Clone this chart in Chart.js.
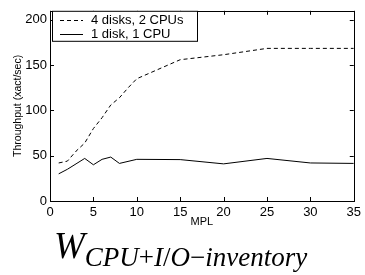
<!DOCTYPE html>
<html>
<head>
<meta charset="utf-8">
<script src="https://cdn.jsdelivr.net/npm/chart.js@4"></script>
<style>
  html, body { margin: 0; padding: 0; background: #fff; }
  #wrap { position: relative; width: 365px; height: 275px; }
  #title {
    position: absolute; left: 54px; top: 227px;
    font-family: "Liberation Serif", "DejaVu Serif", serif;
    font-style: italic; font-size: 37px; line-height: 37px; color: #000; white-space: nowrap;
  }
  #title sub { font-size: 27px; vertical-align: -8px; line-height: 27px; }
  #title .up { font-style: normal; }
</style>
</head>
<body>
<div id="wrap">
  <canvas id="chart" width="365" height="275"></canvas>
  <div id="title">W<sub>CPU<span class="up">+</span>I<span class="up">/</span>O<span class="up">&minus;</span>inventory</sub></div>
</div>
<script>
// data
let mplFast = [1, 2, 3, 4, 5, 6, 7, 8, 9, 10, 15, 20, 25, 30, 35];
let tputFast = [42, 44, 55, 64, 80, 92, 106, 114, 125, 135, 156, 161.5, 168.5, 168.5, 168.5];
let mplSlow = [1, 2, 3, 4, 5, 6, 7, 8, 10, 15, 20, 25, 30, 35];
let tputSlow = [30, 35, 41, 47, 40, 46, 48.5, 41.5, 46, 45.7, 41, 47, 42, 41.5];
let seriesNames = ["4 disks, 2 CPUs", "1 disk, 1 CPU"];
let xTicks = [0, 5, 10, 15, 20, 25, 30, 35];
let yTicks = [0, 50, 100, 150, 200];

function toPoints(xs, ys) {
    return xs.map((x, i) => ({x: x, y: ys[i]}));
}

// matlab style box: frame + inward ticks on all four sides
let boxPlugin = {
    id: "box",
    afterDraw(chart) {
        let ctx = chart.ctx;
        let a = chart.chartArea;
        let xs = chart.scales.x, ys = chart.scales.y;
        ctx.save();
        ctx.strokeStyle = "#000";
        ctx.lineWidth = 1;
        ctx.beginPath();
        xTicks.forEach(v => {
            let px = Math.round(xs.getPixelForValue(v)) + 0.5;
            ctx.moveTo(px, a.bottom); ctx.lineTo(px, a.bottom - 4);
            ctx.moveTo(px, a.top); ctx.lineTo(px, a.top + 4);
        });
        yTicks.forEach(v => {
            let py = Math.round(ys.getPixelForValue(v)) + 0.5;
            ctx.moveTo(a.left, py); ctx.lineTo(a.left + 4, py);
            ctx.moveTo(a.right, py); ctx.lineTo(a.right - 4, py);
        });
        ctx.stroke();
        ctx.strokeRect(Math.round(a.left) + 0.5, Math.round(a.top) + 0.5,
            Math.round(a.right - a.left), Math.round(a.bottom - a.top));

        // legend box in the top left corner
        let lx = a.left + 2, ly = a.top, lw = 145, lh = 30;
        ctx.fillStyle = "#fff";
        ctx.fillRect(lx, ly, lw, lh);
        ctx.strokeRect(lx + 0.5, ly + 0.5, lw, lh);
        ctx.font = "13px 'Liberation Sans', Arial, sans-serif";
        ctx.textBaseline = "middle";
        ctx.fillStyle = "#000";
        chart.data.datasets.forEach((ds, i) => {
            let cy = ly + 9.5 + i * 13.5;
            ctx.setLineDash(ds.borderDash || []);
            ctx.beginPath();
            ctx.moveTo(lx + 8, Math.round(cy) + 0.5);
            ctx.lineTo(lx + 31, Math.round(cy) + 0.5);
            ctx.stroke();
            ctx.setLineDash([]);
            ctx.fillText(ds.label, lx + 39, cy + 0.5);
        });
        ctx.restore();
    }
};

let chartContext = document.getElementById("chart").getContext("2d");
let chart = new Chart(chartContext, {
    type: "line",
    data: {
        datasets: [{
            label: seriesNames[0],
            data: toPoints(mplFast, tputFast),
            borderColor: "#000",
            borderWidth: 1,
            borderDash: [4, 3],
            pointRadius: 0,
            tension: 0,
            fill: false
        }, {
            label: seriesNames[1],
            data: toPoints(mplSlow, tputSlow),
            borderColor: "#000",
            borderWidth: 1,
            pointRadius: 0,
            tension: 0,
            fill: false
        }]
    },
    options: {
        responsive: false,
        animation: false,
        layout: {padding: {left: 0, right: 7, top: 1, bottom: 0}},
        plugins: {legend: {display: false}, tooltip: {enabled: false}},
        scales: {
            x: {
                type: "linear",
                min: 0, max: 35,
                afterBuildTicks: s => { s.ticks = xTicks.map(v => ({value: v})); },
                afterFit: s => { s.height = 74; },
                grid: {display: false, drawTicks: false},
                border: {display: false},
                ticks: {color: "#000", padding: 4, maxRotation: 0,
                    font: {family: "'Liberation Sans', Arial, sans-serif", size: 13}},
                title: {display: true, text: "MPL", color: "#000",
                    padding: {top: 0, bottom: 46},
                    font: {family: "'Liberation Sans', Arial, sans-serif", size: 11}}
            },
            y: {
                type: "linear",
                min: 0, max: 210,
                afterBuildTicks: s => { s.ticks = yTicks.map(v => ({value: v})); },
                afterFit: s => { s.width = 50; },
                grid: {display: false, drawTicks: false},
                border: {display: false},
                ticks: {color: "#000", padding: 3,
                    font: {family: "'Liberation Sans', Arial, sans-serif", size: 13}},
                title: {display: true, text: "Throughput (xact/sec)", color: "#000",
                    padding: {top: 12, bottom: 0},
                    font: {family: "'Liberation Sans', Arial, sans-serif", size: 10.5}}
            }
        }
    },
    plugins: [boxPlugin]
});
</script>
</body>
</html>
